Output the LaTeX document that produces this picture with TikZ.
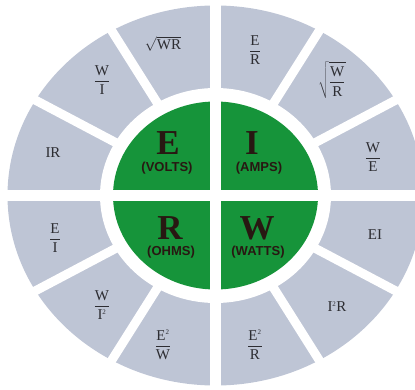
\documentclass[tikz,border=0pt]{standalone}
\usepackage{fontspec}
\setmainfont{Liberation Serif}
\setsansfont{Liberation Sans}
\definecolor{ringgray}{RGB}{190,197,213}
\definecolor{ohmgreen}{RGB}{22,148,58}
\definecolor{bigink}{RGB}{40,24,18}
\definecolor{fmlink}{RGB}{45,45,50}
\newcommand\fr[2]{$\displaystyle\frac{\hbox{#1}}{\hbox{#2}}$}
\newcommand\sq{\textsuperscript{\scriptsize 2}}
\tikzset{
  fml/.style={font=\fontsize{15}{16}\selectfont, text=fmlink, inner sep=0pt},
  big/.style={font=\fontsize{35}{35}\selectfont\bfseries, text=bigink, inner sep=0pt},
  unitlbl/.style={font=\sffamily\bfseries\fontsize{13}{13}\selectfont, text=bigink, inner sep=0pt},
  gap/.style={white, line width=#1},
}
\begin{document}
\begin{tikzpicture}[x=1pt,y=-1pt]
\useasboundingbox (0,0) rectangle (415,390);
\clip (0,0) rectangle (415,390);
\coordinate (c) at (215.5,195.5);
\fill[ringgray] (c) ellipse [x radius=208pt, y radius=190pt];
\fill[white] (c) ellipse [x radius=115.5pt, y radius=107.5pt];
\fill[ohmgreen] (c) ellipse [x radius=102.5pt, y radius=94pt];
\coordinate (hl) at (0,195.5);
\coordinate (hr) at (415,195.5);
\coordinate (vt) at (215.5,0);
\coordinate (vb) at (215.5,390);
\draw[gap=11pt] (hl) -- (hr);
\draw[gap=11pt] (vt) -- (vb);
\foreach \a in {30,60,120,150,210,240,300,330}
  \draw[gap=9pt, shift={(c)}] (\a:110pt and 101pt) -- (\a:240pt and 220pt);
% center quadrants
\node[big] (E) at (168,143) {E};
\node[unitlbl] (volts) at (167,168) {(VOLTS)};
\node[big] (I) at (252,143) {I};
\node[unitlbl] (amps) at (259,168) {(AMPS)};
\node[big] (R) at (170,228) {R};
\node[unitlbl] (ohms) at (171,252) {(OHMS)};
\node[big] (W) at (257,228) {W};
\node[unitlbl] (watts) at (258,252) {(WATTS)};
% outer formulas
\node[fml] (f1) at (163,44) {$\sqrt{\hbox{WR}}$};
\node[fml] (f2) at (102,80) {\fr{W}{I}};
\node[fml] (f3) at (53,153) {IR};
\node[fml] (f4) at (255,50) {\fr{E}{R}};
\node[fml] (f5) at (332,80) {$\displaystyle\sqrt{\frac{\hbox{W}}{\hbox{R}}}$};
\node[fml] (f6) at (373,157) {\fr{W}{E}};
\node[fml] (f7) at (55,238) {\fr{E}{I}};
\node[fml] (f8) at (102,305) {\fr{W}{I\sq}};
\node[fml] (f9) at (163,345) {\fr{E\sq}{W}};
\node[fml] (f10) at (375,235) {EI};
\node[fml] (f11) at (337,307) {I\sq R};
\node[fml] (f12) at (255,345) {\fr{E\sq}{R}};
\end{tikzpicture}
\end{document}
